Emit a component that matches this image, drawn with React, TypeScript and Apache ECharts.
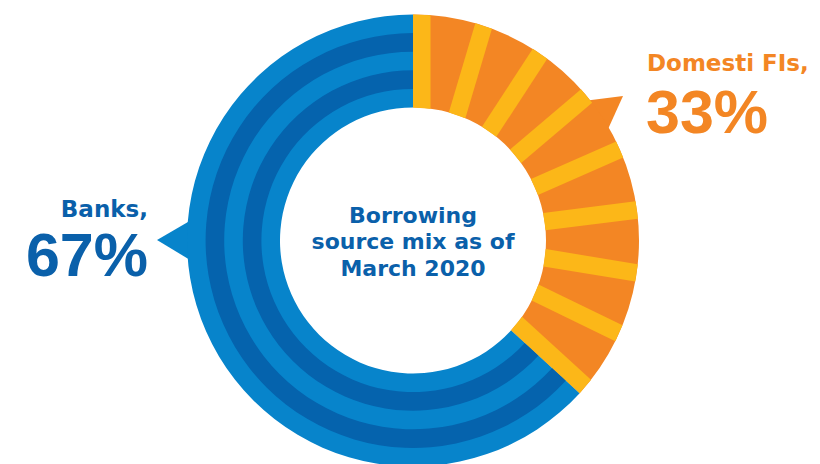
import React, { useEffect, useRef } from "react";
import * as echarts from "echarts";

// ---- data ----
const categories = ["Domesti FIs", "Banks"];
const shares = [33, 67]; // percentages printed in the labels
const drawnShares = [36.8, 63.2]; // arc proportions as drawn in the reference
const stripeCount = 9; // yellow stripes across the Domestic FIs slice
const bandCount = 5; // concentric bands across the Banks slice
const centerTitle = ["Borrowing", "source mix as of", "March 2020"];

// ---- style / layout ----
const CX = 413;
const CY = 240.5;
const R_IN = 133;
const R_OUT = 226;
const STRIPE_W = 17.5;
const ORANGE = "#f38624";
const YELLOW = "#fcb718";
const BLUE_LIGHT = "#0784cb";
const BLUE_DARK = "#0563ad";
const TEXT_BLUE = "#0a60aa";

export default function App() {
  const ref = useRef<HTMLDivElement>(null);

  useEffect(() => {
    document.body.style.margin = "0";
    if (!ref.current) return;
    const chart = echarts.init(ref.current, null, { renderer: "svg" });

    const total = drawnShares.reduce((a, b) => a + b, 0);
    const spanDeg = (drawnShares[0] / total) * 360;
    const bandW = (R_OUT - R_IN) / bandCount;

    const baseSeries: any = {
      type: "pie",
      center: [CX, CY],
      radius: [R_IN, R_OUT],
      startAngle: 90,
      clockwise: true,
      silent: true,
      label: { show: false },
      labelLine: { show: false },
      emphasis: { disabled: true },
      itemStyle: { borderWidth: 0 },
      data: [
        { name: categories[0], value: drawnShares[0], itemStyle: { color: ORANGE } },
        { name: categories[1], value: drawnShares[1], itemStyle: { color: BLUE_LIGHT } },
      ],
      z: 2,
    };

    const darkBands: any[] = [];
    for (let b = 1; b < bandCount; b += 2) {
      darkBands.push({
        type: "pie",
        center: [CX, CY],
        radius: [R_IN + b * bandW, R_IN + (b + 1) * bandW],
        startAngle: 90,
        clockwise: true,
        silent: true,
        label: { show: false },
        labelLine: { show: false },
        emphasis: { disabled: true },
        itemStyle: { borderWidth: 0 },
        data: [
          { name: categories[0], value: drawnShares[0], itemStyle: { color: "rgba(0,0,0,0)" } },
          { name: categories[1], value: drawnShares[1], itemStyle: { color: BLUE_DARK } },
        ],
        z: 3,
      });
    }

    const stripeIdx = Array.from({ length: stripeCount }, (_, i) => i);
    const stripes: any = {
      type: "custom",
      coordinateSystem: "none",
      silent: true,
      z: 4,
      data: stripeIdx,
      renderItem: (params: any, api: any) => {
        const k = api.value(0);
        const n = stripeCount - 1;
        const a = ((k / n) * spanDeg * Math.PI) / 180; // clockwise from top
        const d = STRIPE_W / 2 - (STRIPE_W * k) / n; // perpendicular offset
        const ux = Math.sin(a), uy = -Math.cos(a);
        const nx = Math.cos(a), ny = Math.sin(a);
        const pt = (e: number, R: number) => {
          const t = Math.sqrt(R * R - e * e);
          return [CX + t * ux + e * nx, CY + t * uy + e * ny];
        };
        const e1 = d - STRIPE_W / 2, e2 = d + STRIPE_W / 2;
        return {
          type: "polygon",
          shape: { points: [pt(e1, R_IN), pt(e1, R_OUT), pt(e2, R_OUT), pt(e2, R_IN)] },
          style: { fill: YELLOW },
        };
      },
    };

    const titleFont = "DejaVu Sans";
    const numFont = "Liberation Sans";
    const txt = (text: string, x: number, y: number, color: string, font: string, align: string) => ({
      type: "text",
      x,
      y,
      style: { text, fill: color, font, textAlign: align, textVerticalAlign: "middle" },
    });

    chart.setOption({
      animation: false,
      series: [baseSeries, ...darkBands, stripes],
      graphic: [
        {
          type: "polygon",
          z: 1,
          shape: { points: [[157, 240], [200, 215], [200, 266]] },
          style: { fill: BLUE_LIGHT },
        },
        {
          type: "polygon",
          z: 1,
          shape: { points: [[623, 96], [579.6, 101.6], [604.8, 136.3]] },
          style: { fill: ORANGE },
        },
        ...centerTitle.map((t, i) =>
          txt(t, CX, 215 + i * 26.5, TEXT_BLUE, `bold 22px "${titleFont}"`, "center")
        ),
        txt(`${categories[1]},`, 148, 209, TEXT_BLUE, `bold 23px "${titleFont}"`, "right"),
        txt(`${shares[1]}%`, 148, 255, TEXT_BLUE, `bold 61px "${numFont}"`, "right"),
        txt(`${categories[0]},`, 647, 63, ORANGE, `bold 23px "${titleFont}"`, "left"),
        txt(`${shares[0]}%`, 646, 112, ORANGE, `bold 61px "${numFont}"`, "left"),
      ],
    });

    return () => chart.dispose();
  }, []);

  return <div ref={ref} style={{ width: 820, height: 464 }} />;
}
